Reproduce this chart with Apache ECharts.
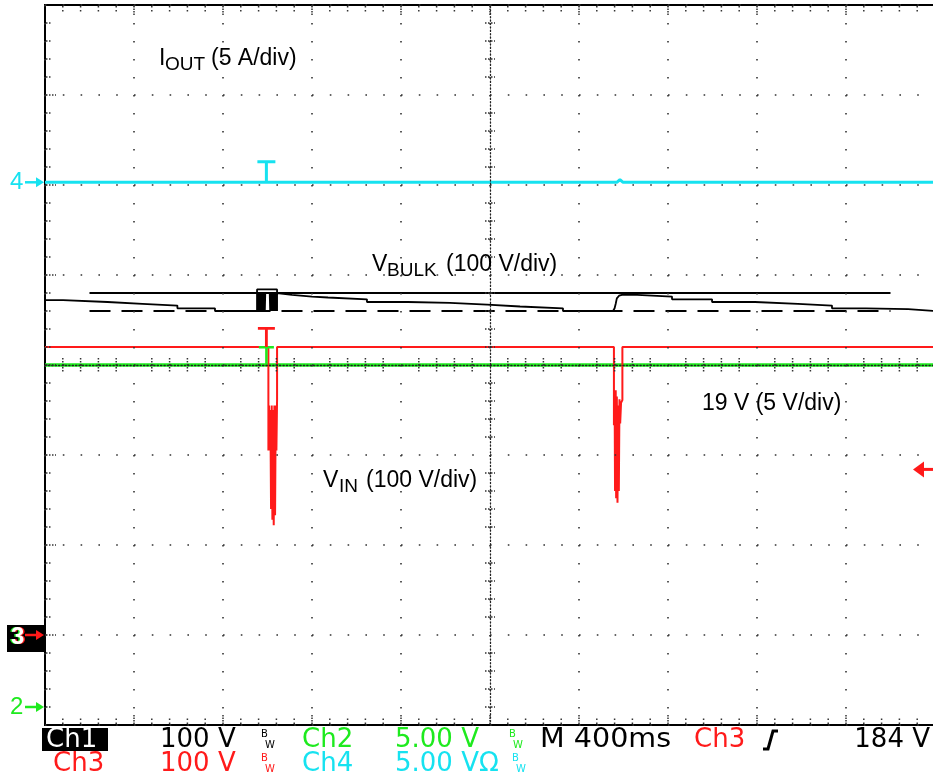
<!DOCTYPE html>
<html>
<head>
<meta charset="utf-8">
<script src="https://cdn.jsdelivr.net/npm/echarts@6.0.0/dist/echarts.min.js"></script>
<style>
html,body{margin:0;padding:0;background:#fff;}
#chart{width:933px;height:783px;}
</style>
</head>
<body>
<div id="chart"></div>
<script>
// ---------- horizontal scale (400 ms/div, 10 div) ----------
const timeMin = -2000;
const timeMax = 2000;
const timePerDiv = 400;
const triggerTime = -1005;      // ms, trigger position "T"
const ch3TriggerLevel = 184;    // V, "Ch3 184 V"

// ---------- Ch1 : V_BULK (100 V/div) ----------
const vbulkTime = [-2000,-1919,-1919,-1719,-1719,-1562,-1562,-1405,-1405,-1236,-1236,-1047,
  -1047,-957,-957,
  -960,-964,-968,-972,-976,-980,-984,-988,-990,-1010,-1012,-1016,-1020,-1024,-1028,-1032,-1036,-1040,-1044,-1046,
  -957,-957,-890,-890,-800,-800,-728,-728,-553,-553,-369,-369,-180,-180,-13,-13,135,135,328,328,553,
  560,565,570,580,593,661,661,818,818,998,998,1191,1191,1384,1384,1537,1537,1690,1690,1879,1879,2000];
const vbulkVolt = [372,372,370,370,368,368,366,366,363,363,360,360,
  384,384,360,
  380,360,380,360,380,360,380,360,380,380,360,380,360,380,360,380,360,380,360,380,
  380,378,378,376,376,375,375,373,373,370,370,369,369,367,367,365,365,363,363,360,360,
  363,368,374,377,378,378,376,376,373,373,370,370,368,368,366,366,363,363,362,362,360,360];
const vbulkRefTime = [-1800, 1800];
const vbulkHighRef = [380, 380];
const vbulkLowRef = [360, 360];

// ---------- Ch3 : V_IN (100 V/div) ----------
const vinTime = [-2000,-996,-996,-993,-990,-987,-984,-981,-978,-975,-972,-969,-966,-963,-960,-957,-957,
  557,557,560,562,565,567,570,573,576,579,582,585,589,595,595,2000];
const vinVolt = [320,320,205,255,205,250,140,255,128,250,122,255,133,255,205,262,320,
  320,233,272,160,272,152,265,147,255,160,262,235,258,261,320,320];
const vinLevel = 320;

// ---------- Ch2 : 19 V (5 V/div) ----------
const v19Time = [-2000, 2000];
const v19Volt = [19, 19];

// ---------- Ch4 : I_OUT (5 A/div) ----------
const ioutTime = [-2000, 570, 584, 598, 2000];
const ioutAmp = [0, 0, 0.15, 0, 0];

const zip = (a, b) => a.map((v, i) => [v, b[i]]);

// ---------- styles ----------
const DOT = '#333';
const RED = '#ff1a1a', GREEN = '#1eea1e', CYAN = '#16e2f0', BLACK = '#000';
const tPath = 'path://M0,0H18V3H10.5V22H7.5V3H0Z';
const centerLine = {color:'#222', width:1.3, type:[1.2, 2.2]};

function hiddenY(min, max) {
  return {type:'value', min:min, max:max, show:false, splitLine:{show:false}, axisLine:{show:false, onZero:false}};
}

function trace(name, t, v, yIdx, color, width, extra) {
  return Object.assign({name:name, type:'line', xAxisIndex:0, yAxisIndex:yIdx, data:zip(t, v),
    symbol:'none', silent:true, animation:false, lineStyle:{color:color, width:width}}, extra || {});
}
function tMark(color, value, size) {
  return {symbol:tPath, symbolSize:size, symbolOffset:[0,'-50%'], itemStyle:{color:color},
    label:{show:false}, silent:true, animation:false, data:[{coord:[triggerTime, value]}]};
}

const option = {
  animation:false,
  backgroundColor:'#fff',
  grid:{left:45, top:5, width:890, height:720, show:true, borderColor:'#000', borderWidth:2,
        backgroundColor:'#fff', containLabel:false, outerBoundsMode:'none'},
  xAxis:[{type:'value', min:timeMin, max:timeMax, interval:timePerDiv, position:'bottom', z:10,
    axisLine:{show:true, onZero:true, onZeroAxisIndex:0, lineStyle:centerLine},
    axisTick:{show:false}, axisLabel:{show:false},
    splitLine:{show:true, lineStyle:{color:DOT, width:1.6, type:[1.6, 16.4]}}}],
  yAxis:[{type:'value', min:-4, max:4, interval:1, position:'left', z:10,
    axisLine:{show:true, onZero:true, onZeroAxisIndex:0, lineStyle:centerLine},
    axisTick:{show:false}, axisLabel:{show:false},
    splitLine:{show:true, lineStyle:{color:DOT, width:1.6, type:[1.6, 16.2]}}},
    hiddenY(-100, 700), hiddenY(-1, 39), hiddenY(-30.15, 9.85)],
  series:[
    trace('19 V', v19Time, v19Volt, 2, GREEN, 3.5, {markPoint:tMark(GREEN, 19, [15,19])}),
    trace('V_IN', vinTime, vinVolt, 1, RED, 2, {markPoint:tMark(RED, vinLevel, [17,20])}),
    trace('V_BULK high', vbulkRefTime, vbulkHighRef, 1, BLACK, 2),
    trace('V_BULK low', vbulkRefTime, vbulkLowRef, 1, BLACK, 2, {lineStyle:{color:BLACK, width:2, type:[21,11]}}),
    trace('V_BULK', vbulkTime, vbulkVolt, 1, BLACK, 1.8),
    trace('I_OUT', ioutTime, ioutAmp, 3, CYAN, 3, {markPoint:tMark(CYAN, 0, [18,22])})
  ]
};

const chart = echarts.init(document.getElementById('chart'), null, {renderer:'canvas'});
chart.setOption(option);

// ---------- graticule ticks (positions from the axes) ----------
const elements = [];
function dl(x1, y1, x2, y2, dash) {
  elements.push({type:'line', z:90, silent:true, shape:{x1:x1, y1:y1, x2:x2, y2:y2},
    style:{stroke:DOT, lineWidth:1.5, lineDash:dash}});
}
const gTop = chart.convertToPixel({yAxisIndex:0}, 4);
const gBot = chart.convertToPixel({yAxisIndex:0}, -4);
const gLeft = chart.convertToPixel({xAxisIndex:0}, timeMin);
const cx = chart.convertToPixel({xAxisIndex:0}, 0);
const cy = chart.convertToPixel({yAxisIndex:0}, 0);
for (let i = 1; i < 50; i++) {
  const x = chart.convertToPixel({xAxisIndex:0}, timeMin + i * timePerDiv / 5);
  const major = i % 5 === 0;
  dl(x, gTop + 1, x, gTop + (major ? 11 : 8), [1.5, major ? 1 : 2.5]);
  dl(x, gBot - 1, x, gBot - (major ? 11 : 8), [1.5, major ? 1 : 2.5]);
  if (!major) dl(x, cy - 7, x, cy + 7, [1.5, 1.5]);
}
for (let j = 1; j < 40; j++) {
  const y = chart.convertToPixel({yAxisIndex:0}, -4 + j * 0.2);
  const major = j % 5 === 0;
  dl(gLeft + 1, y, gLeft + (major ? 11 : 6), y, [1.5, 1.5]);
  if (!major) dl(cx - 5, y, cx + 5, y, [1.5, 1.5]);
}

// ---------- annotations ----------
const LS = '"Liberation Sans", Arial, sans-serif';
const DV = '"DejaVu Sans", sans-serif';
function T(x, y, text, color, size, family, align, valign, weight, sx) {
  const el = {type:'text', x:x, y:y, z:100, silent:true,
    style:{text:text, fill:color, font:(weight||'normal') + ' ' + size + 'px ' + family,
           textAlign:align||'left', textVerticalAlign:valign||'top'}};
  if (sx) el.scaleX = sx;
  return el;
}
function arrowRight(y, color) {
  return [
    {type:'line', z:100, shape:{x1:25, y1:y, x2:38, y2:y}, style:{stroke:color, lineWidth:2.5}},
    {type:'polygon', z:100, shape:{points:[[36,y-5],[44,y],[36,y+5]]}, style:{fill:color}}
  ];
}
function bw(x, y, color) {
  return [T(x, y-6, 'B', color, 10, DV, 'left', 'middle'), T(x+4, y+5, 'W', color, 10, DV, 'left', 'middle')];
}

const g4 = chart.convertToPixel({yAxisIndex:3}, 0);
const g3 = chart.convertToPixel({yAxisIndex:1}, 0);
const g2 = chart.convertToPixel({yAxisIndex:2}, 0);
const gT = chart.convertToPixel({yAxisIndex:1}, ch3TriggerLevel);

const r1 = 740, r2 = 764, SF = 26;
elements.push(
  // trace labels
  T(159, 47, 'I', BLACK, 23, LS), T(165, 55.5, 'OUT', BLACK, 19, LS), T(211, 47, '(5 A/div)', BLACK, 23, LS),
  T(372, 253, 'V', BLACK, 23, LS), T(387, 261.5, 'BULK', BLACK, 19, LS), T(446, 253, '(100 V/div)', BLACK, 23, LS),
  T(323, 469, 'V', BLACK, 23, LS), T(339, 477.5, 'IN', BLACK, 19, LS), T(366, 469, '(100 V/div)', BLACK, 23, LS),
  T(702, 392, '19 V (5 V/div)', BLACK, 23, LS),
  // ground markers
  T(10, g4, '4', CYAN, 24, LS, 'left', 'middle'), ...arrowRight(g4, CYAN),
  {type:'rect', z:100, shape:{x:7, y:g3-10, width:38, height:27}, style:{fill:'#000'}},
  T(9.5, g3+2, '3', GREEN, 24, LS, 'left', 'middle', 'bold'),
  T(12.5, g3+2, '3', RED, 24, LS, 'left', 'middle', 'bold'),
  T(11, g3+2, '3', '#fff', 24, LS, 'left', 'middle', 'bold'),
  ...arrowRight(g3, RED),
  T(10, g2, '2', GREEN, 24, LS, 'left', 'middle'), ...arrowRight(g2, GREEN),
  // trigger level arrow (right edge)
  {type:'polygon', z:100, shape:{points:[[913,gT],[924,gT-8],[924,gT+8]]}, style:{fill:RED}},
  {type:'line', z:100, shape:{x1:922, y1:gT, x2:933, y2:gT}, style:{stroke:RED, lineWidth:3}},
  // status bar row 1
  {type:'rect', z:99, shape:{x:42, y:728, width:66, height:23}, style:{fill:'#000'}},
  T(46, r1, 'Ch1', '#fff', SF, DV, 'left', 'middle'),
  T(160, r1, '100 V', BLACK, SF, DV, 'left', 'middle'), ...bw(261, r1, BLACK),
  T(302, r1, 'Ch2', GREEN, SF, DV, 'left', 'middle'),
  T(395, r1, '5.00 V', GREEN, SF, DV, 'left', 'middle'), ...bw(509, r1, GREEN),
  T(540, r1, 'M 400ms', BLACK, SF, DV, 'left', 'middle', 'normal', 1.1),
  T(694, r1, 'Ch3', RED, SF, DV, 'left', 'middle'),
  {type:'polyline', z:100, shape:{points:[[763,749],[768,749],[773,731],[778,731]]}, style:{stroke:BLACK, lineWidth:3, fill:null}},
  T(930, r1, '184 V', BLACK, SF, DV, 'right', 'middle'),
  // status bar row 2
  T(53, r2, 'Ch3', RED, SF, DV, 'left', 'middle'),
  T(160, r2, '100 V', RED, SF, DV, 'left', 'middle'), ...bw(261, r2, RED),
  T(302, r2, 'Ch4', CYAN, SF, DV, 'left', 'middle'),
  T(395, r2, '5.00 VΩ', CYAN, SF, DV, 'left', 'middle'), ...bw(512, r2, CYAN)
);
chart.setOption({graphic:{elements:elements}});
</script>
</body>
</html>
